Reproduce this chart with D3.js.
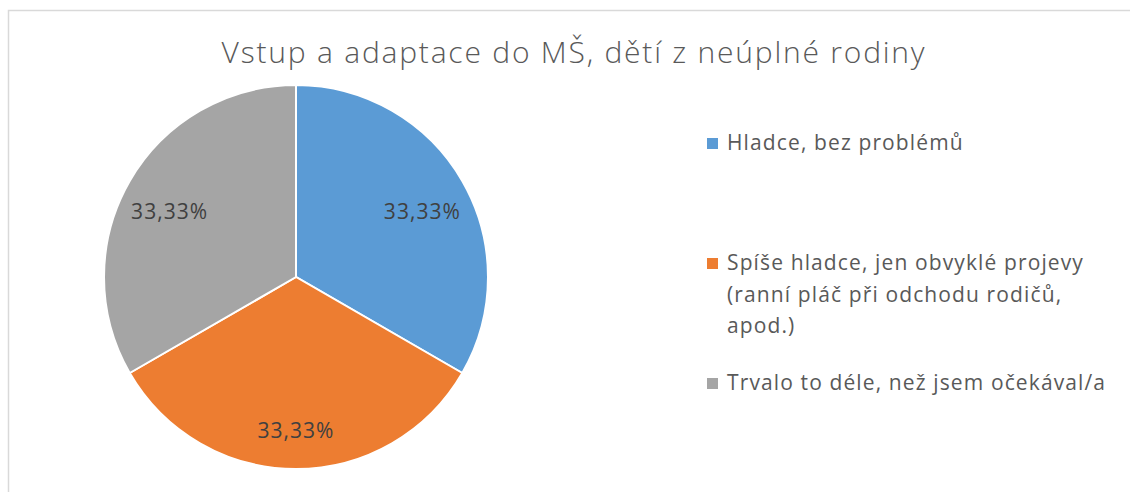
<!DOCTYPE html>
<html>
<head>
<meta charset="utf-8">
<script src="https://cdn.jsdelivr.net/npm/d3@7"></script>
<style>
  body { margin: 0; background: #fff; }
  text { font-family: "Open Sans", sans-serif; }
</style>
</head>
<body>
<div id="chart"></div>
<script>
//////////////////////////////////////////////
// Data //////////////////////////////////////
//////////////////////////////////////////////
var title = "Vstup a adaptace do MŠ, dětí z neúplné rodiny";
var categories = [
  "Hladce, bez problémů",
  "Spíše hladce, jen obvyklé projevy (ranní pláč při odchodu rodičů, apod.)",
  "Trvalo to déle, než jsem očekával/a"
];
// legend lines, as they wrap in the picture
var legendLines = [
  ["Hladce, bez problémů"],
  ["Spíše hladce, jen obvyklé projevy", "(ranní pláč při odchodu rodičů,", "apod.)"],
  ["Trvalo to déle, než jsem očekával/a"]
];
var values = [33.33, 33.33, 33.33];
var labels = ["33,33%", "33,33%", "33,33%"];
var colors = ["#5B9BD5", "#ED7D31", "#A5A5A5"];

//////////////////////////////////////////////
// Chart Config /////////////////////////////
//////////////////////////////////////////////
var width = 1130, height = 492;
var cx = 296, cy = 277, radius = 192;

var svg = d3.select("#chart").append("svg")
    .attr("width", width)
    .attr("height", height);

// stretch letters a bit so the text is as wide as in the picture
function fitWidth(sel, target) {
  var node = sel.node();
  var n = node.getNumberOfChars();
  var w = node.getComputedTextLength();
  var ls = (target - w) / (n - 1);
  return ls;
}

// chart frame (runs off the right/bottom edge like the screenshot)
svg.append("rect")
    .attr("x", 8.5).attr("y", 10.5)
    .attr("width", 1200).attr("height", 600)
    .style("fill", "none")
    .style("stroke", "#d9d9d9")
    .style("stroke-width", 1.5);

// title
var titleEl = svg.append("text")
    .attr("x", 574)
    .attr("y", 63)
    .attr("text-anchor", "middle")
    .style("font-size", "30px")
    .style("font-weight", 300)
    .style("fill", "#595959")
    .text(title);
titleEl.style("letter-spacing", fitWidth(titleEl, 703) + "px");

//////////////////////////////////////////////
// Pie ///////////////////////////////////////
//////////////////////////////////////////////
var pie = d3.pie().sort(null).value(function(d) { return d; });
var arc = d3.arc().innerRadius(0).outerRadius(radius);
var labelArc = d3.arc().innerRadius(radius * 0.76).outerRadius(radius * 0.76);

var artboard = svg.append("g")
    .attr("transform", "translate(" + cx + "," + cy + ")");

var arcs = pie(values);

artboard.selectAll("path.slice")
    .data(arcs)
  .enter().append("path")
    .attr("class", "slice")
    .attr("d", arc)
    .style("fill", function(d, i) { return colors[i]; })
    .style("stroke", "#fff")
    .style("stroke-width", 2);

var lbls = artboard.selectAll("text.lbl")
    .data(arcs)
  .enter().append("text")
    .attr("class", "lbl")
    .attr("transform", function(d) {
      var c = labelArc.centroid(d);
      return "translate(" + c[0] + "," + (c[1] + 15) + ")";
    })
    .attr("text-anchor", "middle")
    .style("font-size", "21px")
    .style("fill", "#404040")
    .text(function(d, i) { return labels[i]; });
var lblSpacing = fitWidth(d3.select(lbls.node()), 76);
lbls.style("letter-spacing", lblSpacing + "px");

//////////////////////////////////////////////
// Legend ////////////////////////////////////
//////////////////////////////////////////////
var legendY = d3.scalePoint()
    .domain(categories)
    .range([150, 390]);

var legend = svg.selectAll("g.legend")
    .data(categories)
  .enter().append("g")
    .attr("class", "legend")
    .attr("transform", function(d) { return "translate(707," + legendY(d) + ")"; });

legend.append("rect")
    .attr("x", 0).attr("y", -12)
    .attr("width", 11).attr("height", 11)
    .style("fill", function(d, i) { return colors[i]; });

var legText = legend.append("text")
    .attr("x", 20)
    .attr("y", 0)
    .style("font-size", "21px")
    .style("fill", "#595959")
    .each(function(d, i) {
      var t = d3.select(this);
      legendLines[i].forEach(function(line, j) {
        t.append("tspan")
          .attr("x", 20)
          .attr("dy", j === 0 ? 0 : 31.5)
          .text(line);
      });
    });
// longest single line sets the spacing for all legend text
var legSpacing = fitWidth(d3.select(legText.nodes()[2]), 378);
legText.style("letter-spacing", legSpacing + "px");
</script>
</body>
</html>
